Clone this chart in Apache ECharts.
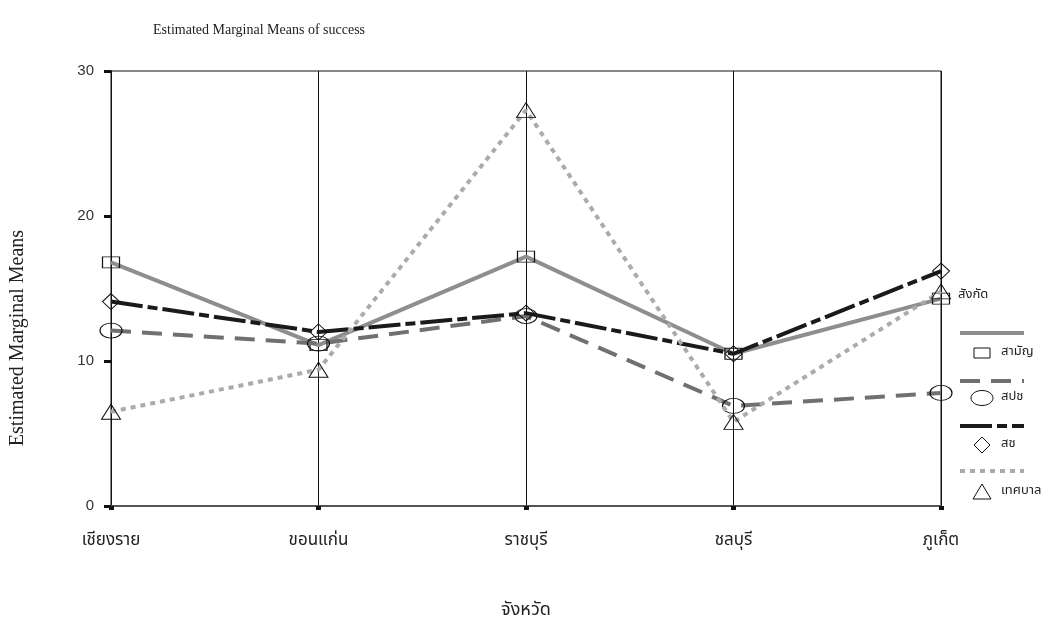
<!DOCTYPE html>
<html><head><meta charset="utf-8">
<script src="https://cdn.jsdelivr.net/npm/echarts@6/dist/echarts.min.js"></script>
<style>html,body{margin:0;padding:0;background:#fff}#c{width:1054px;height:625px}</style>
</head><body><div id="c"></div>
<script>
// ---- data ----
const categories = ['เชียงราย', 'ขอนแก่น', 'ราชบุรี', 'ชลบุรี', 'ภูเก็ต'];
const groupNames = ['สามัญ', 'สปช', 'สช', 'เทศบาล'];
const samanValues = [16.8, 11.1, 17.2, 10.5, 14.3];
const spchValues = [12.1, 11.2, 13.1, 6.9, 7.8];
const schValues = [14.1, 12.0, 13.3, 10.5, 16.2];
const tessabanValues = [6.5, 9.4, 27.3, 5.8, 14.8];
const yTickValues = [0, 10, 20, 30];
const titleText = 'Estimated Marginal Means of success';
const yAxisTitle = 'Estimated Marginal Means';
const xAxisTitle = 'จังหวัด';
const legendTitle = 'สังกัด';

// ---- styles ----
const thaiFont = '"Noto Sans Thai", "Noto Sans", sans-serif';
const serifFont = '"Liberation Serif", "DejaVu Serif", serif';
const styles = [
  { color: '#8e8e8e', dash: 'solid', symbol: 'rect', size: [17, 11] },
  { color: '#707070', dash: [20, 11], symbol: 'circle', size: [22, 15] },
  { color: '#1a1a1a', dash: [32, 5, 10, 5], symbol: 'diamond', size: [17, 16] },
  { color: '#ababab', dash: [5, 5], symbol: 'triangle', size: [19, 15] }
];
const seriesValues = [samanValues, spchValues, schValues, tessabanValues];

const chart = echarts.init(document.getElementById('c'), null, { renderer: 'canvas' });

const series = seriesValues.map((vals, i) => ({
  name: groupNames[i],
  type: 'line',
  data: vals,
  symbol: styles[i].symbol,
  symbolSize: styles[i].size,
  showAllSymbol: true,
  lineStyle: { color: styles[i].color, width: 4, type: styles[i].dash, cap: 'butt' },
  itemStyle: { color: 'rgba(0,0,0,0)', borderColor: '#111', borderWidth: 1 },
  emphasis: { disabled: true },
  z: 3 + i,
  animation: false
}));

// legend + y-axis title graphics (custom SPSS-like layout)
const lg = [];
lg.push({ type: 'text', x: 18, y: 338, rotation: Math.PI / 2,
  style: { text: yAxisTitle, font: '20px ' + serifFont, fill: '#222', align: 'center', verticalAlign: 'middle' } });
lg.push({ type: 'text', left: 958, top: 289, style: { text: legendTitle, font: '13px ' + thaiFont, fill: '#222' } });
const lineYs = [333, 381, 426, 471];
const rowYs = [353, 398, 445, 492];
styles.forEach((s, i) => {
  lg.push({ type: 'line', shape: { x1: 960, y1: lineYs[i], x2: 1024, y2: lineYs[i] },
    style: { stroke: s.color, lineWidth: 4, lineDash: Array.isArray(s.dash) ? s.dash : null } });
  const cx = 982, cy = rowYs[i];
  if (s.symbol === 'rect') {
    lg.push({ type: 'rect', shape: { x: cx - 8, y: cy - 5, width: 16, height: 10 }, style: { fill: 'none', stroke: '#111', lineWidth: 1 } });
  } else if (s.symbol === 'circle') {
    lg.push({ type: 'ellipse', shape: { cx: cx, cy: cy, rx: 11, ry: 7.5 }, style: { fill: 'none', stroke: '#111', lineWidth: 1 } });
  } else if (s.symbol === 'diamond') {
    lg.push({ type: 'polygon', shape: { points: [[cx, cy - 8], [cx + 8, cy], [cx, cy + 8], [cx - 8, cy]] }, style: { fill: 'none', stroke: '#111', lineWidth: 1 } });
  } else {
    lg.push({ type: 'polygon', shape: { points: [[cx, cy - 8], [cx + 9, cy + 7], [cx - 9, cy + 7]] }, style: { fill: 'none', stroke: '#111', lineWidth: 1 } });
  }
  lg.push({ type: 'text', left: 1001, top: cy - 7, style: { text: groupNames[i], font: '13px ' + thaiFont, fill: '#222' } });
});

chart.setOption({
  animation: false,
  backgroundColor: '#fff',
  title: { text: titleText, left: 148, top: 18, textStyle: { fontFamily: serifFont, fontSize: 14, fontWeight: 'normal', color: '#222' } },
  grid: { left: 111, right: 113, top: 71, bottom: 118, show: true, borderColor: '#111', borderWidth: 1, backgroundColor: 'transparent' },
  xAxis: {
    type: 'category', data: categories, boundaryGap: false,
    name: xAxisTitle, nameLocation: 'middle', nameGap: 96,
    nameTextStyle: { fontFamily: thaiFont, fontSize: 18, color: '#222' },
    axisLine: { lineStyle: { color: '#555', width: 2 } },
    axisTick: { show: true, length: 4, lineStyle: { color: '#111', width: 5 } },
    axisLabel: { margin: 27, fontFamily: thaiFont, fontSize: 17, color: '#222' },
    splitLine: { show: true, lineStyle: { color: '#111', width: 1 } }
  },
  yAxis: {
    type: 'value', min: 0, max: 30, interval: 10,
    axisLine: { show: true, lineStyle: { color: '#111', width: 1 } },
    axisTick: { show: true, length: 7, lineStyle: { color: '#111', width: 3 } },
    axisLabel: { margin: 17, fontFamily: '"Liberation Sans", Arial, sans-serif', fontSize: 15, color: '#333',
      formatter: v => (yTickValues.indexOf(v) >= 0 ? String(v) : '') },
    splitLine: { show: false }
  },
  legend: { show: false },
  series: series,
  graphic: lg
});
</script></body></html>
